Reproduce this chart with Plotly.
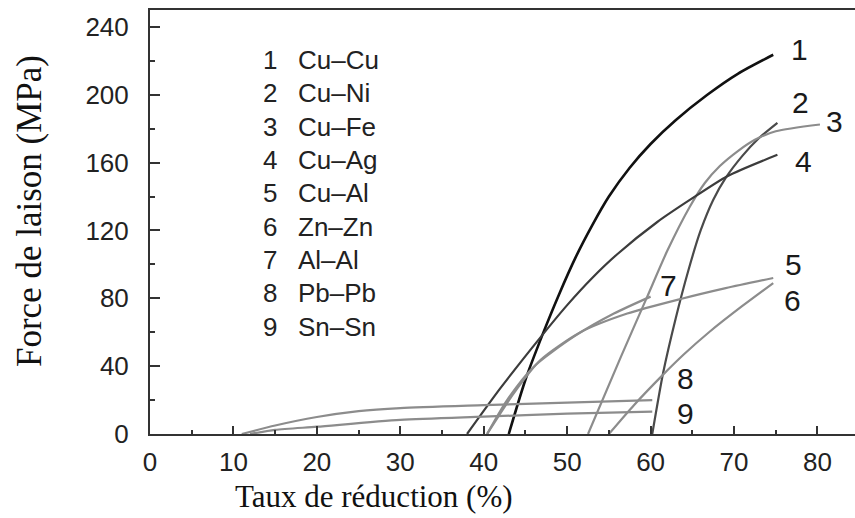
import plotly.graph_objects as go

# ---- data ----
names = ["Cu–Cu", "Cu–Ni", "Cu–Fe", "Cu–Ag", "Cu–Al", "Zn–Zn", "Al–Al", "Pb–Pb", "Sn–Sn"]
numbers = ["1", "2", "3", "4", "5", "6", "7", "8", "9"]

x1 = [43.0, 45.0, 47.0, 49.0, 51.0, 53.0, 55.0, 57.5, 60.0, 63.0, 66.8, 70.5, 74.7]
y1 = [0, 32, 58, 82, 104, 123, 140, 157, 171, 185, 200, 212.5, 223.6]

x2 = [60.2, 61.5, 63.0, 64.5, 66.0, 67.5, 69.0, 71.0, 73.0, 75.2]
y2 = [0, 36, 68, 96, 120, 138, 151, 164, 174.5, 183.5]

x3 = [52.5, 56.4, 59.6, 62.0, 64.7, 66.5, 68.3, 70.5, 72.5, 75.0, 80.3]
y3 = [0, 45, 81, 108, 134, 148, 158, 167, 173.5, 178.5, 182.5]

x4 = [38.0, 42.0, 46.8, 50.0, 53.0, 56.0, 60.8, 64.7, 69.2, 75.2]
y4 = [0, 27, 57, 76, 92, 106, 125, 138, 152, 164.6]

x5 = [40.4, 43.6, 46.8, 51.6, 57.2, 63.6, 69.0, 74.7]
y5 = [0, 24, 43.6, 60, 71, 79.6, 86, 92]

x6 = [55.0, 58.0, 61.5, 64.0, 67.0, 71.0, 74.7]
y6 = [0, 17, 35, 47, 60, 75.5, 89]

x7 = [40.4, 42.8, 46.0, 50.8, 55.6, 60.0]
y7 = [0, 20, 39.7, 57.4, 71, 81]

x8 = [11.0, 15.0, 20.0, 25.0, 30.0, 40.0, 50.0, 60.2]
y8 = [0, 5, 10, 13.5, 15.3, 17, 18.5, 20]

x9 = [12.0, 15.0, 20.0, 30.0, 40.0, 50.0, 60.2]
y9 = [0, 2.4, 4.3, 8.3, 10.2, 12, 13.2]

x_ticks = [0, 10, 20, 30, 40, 50, 60, 70, 80]
y_ticks = [0, 40, 80, 120, 160, 200, 240]

# ---- styles ----
series = [(x1, y1), (x2, y2), (x3, y3), (x4, y4), (x5, y5),
          (x6, y6), (x7, y7), (x8, y8), (x9, y9)]
colors = ["#111111", "#4a4a4a", "#8c8c8c", "#3c3c3c", "#8c8c8c",
          "#8c8c8c", "#8c8c8c", "#8c8c8c", "#8c8c8c"]
widths = [2.6, 2.2, 2.2, 2.2, 2.2, 2.2, 2.2, 2.2, 2.2]
# label offsets (pixels) from end of each curve
label_dx = [26, 23, 15, 26, 20, 19, 18, 33, 33]
label_dy = [5, 20, 3, -7, 13, -17, 11, 22, -2]

fig = go.Figure()
for (xs, ys), c, w in zip(series, colors, widths):
    fig.add_trace(go.Scatter(x=xs, y=ys, mode="lines",
                             line=dict(color=c, width=w, shape="spline", smoothing=0.7),
                             showlegend=False, hoverinfo="skip"))

sans = "Liberation Sans, Arial, sans-serif"
serif = "Liberation Serif, Times New Roman, serif"

annotations = []
# curve-end number labels
for (xs, ys), num, dx, dy in zip(series, numbers, label_dx, label_dy):
    annotations.append(dict(x=xs[-1], y=ys[-1], text=num, showarrow=False,
                            xanchor="center", yanchor="middle",
                            xshift=dx, yshift=dy,
                            font=dict(family=sans, size=30, color="#1a1a1a")))

# in-plot key
for i, (num, nm) in enumerate(zip(numbers, names)):
    ypos = 220.5 - i * 19.65
    annotations.append(dict(x=14.4, y=ypos, text=num, showarrow=False,
                            xanchor="center", yanchor="middle",
                            font=dict(family=sans, size=26, color="#222222")))
    annotations.append(dict(x=17.5, y=ypos, text=nm, showarrow=False,
                            xanchor="left", yanchor="middle",
                            font=dict(family=sans, size=26, color="#222222")))

# axis titles
annotations.append(dict(x=0.318, y=-0.147, xref="paper", yref="paper",
                        text="Taux de réduction (%)", showarrow=False,
                        xanchor="center", yanchor="middle",
                        font=dict(family=serif, size=31, color="#111111")))
annotations.append(dict(x=-0.171, y=0.527, xref="paper", yref="paper",
                        text="Force de laison (MPa)", showarrow=False, textangle=-90,
                        xanchor="center", yanchor="middle",
                        font=dict(family=serif, size=35, color="#111111")))

fig.update_layout(
    width=855, height=518,
    margin=dict(l=150, r=0, t=10, b=84),
    paper_bgcolor="white", plot_bgcolor="white",
    annotations=annotations,
    xaxis=dict(range=[0, 84.5], tickvals=x_ticks, ticktext=[str(v) for v in x_ticks],
               ticks="inside", ticklen=8, tickwidth=1.5, tickcolor="#333333",
               minor=dict(dtick=5, tick0=0, ticks="inside", ticklen=4, tickwidth=1.5, tickcolor="#333333"),
               showline=True, linecolor="#333333", linewidth=2, mirror=True,
               showgrid=False, zeroline=False,
               tickfont=dict(family=sans, size=26, color="#222222"),
               ticklabelstandoff=4),
    yaxis=dict(range=[0, 250], tickvals=y_ticks, ticktext=[str(v) for v in y_ticks],
               ticks="inside", ticklen=10, tickwidth=1.5, tickcolor="#333333",
               minor=dict(dtick=20, tick0=0, ticks="inside", ticklen=5, tickwidth=1.5, tickcolor="#333333"),
               showline=True, linecolor="#333333", linewidth=2, mirror=False,
               showgrid=False, zeroline=False,
               tickfont=dict(family=sans, size=26, color="#222222"),
               ticklabelstandoff=14),
)

fig.write_html("out.html")
